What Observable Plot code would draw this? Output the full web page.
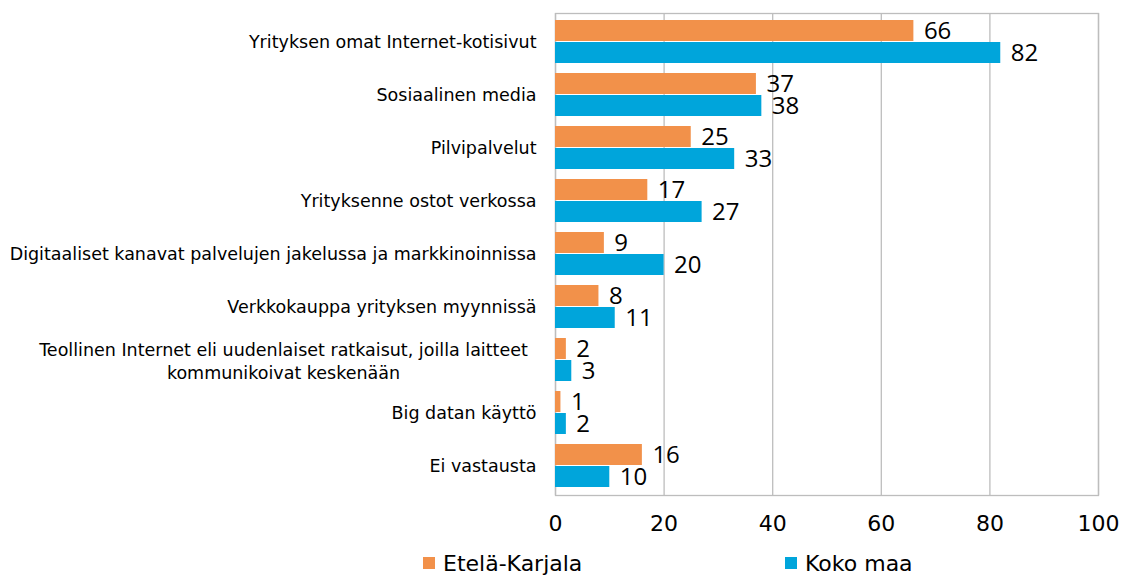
<!DOCTYPE html>
<html>
<head>
<meta charset="utf-8">
<script src="https://cdn.jsdelivr.net/npm/d3@7"></script>
<script src="https://cdn.jsdelivr.net/npm/@observablehq/plot@0.6"></script>
<style>
  body { margin: 0; background: #fff; }
  #chart svg { display: block; }
  #legend { position: relative; height: 30px; width: 1131px; font-family: "DejaVu Sans", sans-serif; font-size: 22px; color: #000; }
  #legend .item { position: absolute; top: 0; height: 30px; display: flex; align-items: center; white-space: nowrap; }
  #legend .sw { width: 12px; height: 12px; margin-right: 8px; }
</style>
</head>
<body>
<div id="chart"></div>
<div id="legend"></div>
<script>
// ---- data ----
const categories = [
  "Yrityksen omat Internet-kotisivut",
  "Sosiaalinen media",
  "Pilvipalvelut",
  "Yrityksenne ostot verkossa",
  "Digitaaliset kanavat palvelujen jakelussa ja markkinoinnissa",
  "Verkkokauppa yrityksen myynnissä",
  "Teollinen Internet eli uudenlaiset ratkaisut, joilla laitteet\nkommunikoivat keskenään",
  "Big datan käyttö",
  "Ei vastausta"
];
const seriesNames = ["Etelä-Karjala", "Koko maa"];
const etelaKarjala = [66, 37, 25, 17, 9, 8, 2, 1, 16];
const kokoMaa = [82, 38, 33, 27, 20, 11, 3, 2, 10];
const xTicks = [0, 20, 40, 60, 80, 100];
const colors = ["#F2914A", "#00A5DB"];

// ---- table ----
const rows = [];
categories.forEach((c, i) => {
  rows.push({category: c, series: seriesNames[0], value: etelaKarjala[i]});
  rows.push({category: c, series: seriesNames[1], value: kokoMaa[i]});
});
const s0 = rows.filter(d => d.series === seriesNames[0]);
const s1 = rows.filter(d => d.series === seriesNames[1]);
const multiLine = categories.filter(c => c.includes("\n"));

const fontLabel = "DejaVu Sans, sans-serif";
const fontNum = "Open Sans, sans-serif";

const chart = Plot.plot({
  width: 1131,
  height: 548,
  marginLeft: 555,
  marginRight: 33,
  marginTop: 13,
  marginBottom: 53,
  style: {fontFamily: fontLabel, background: "#fff", color: "#000"},
  x: {domain: [0, 100], ticks: xTicks},
  y: {domain: categories, paddingInner: 0.18, paddingOuter: 0.09},
  color: {domain: seriesNames, range: colors},
  marks: [
    Plot.gridX(xTicks, {stroke: "#BDBDBD", strokeOpacity: 1, strokeWidth: 1.3}),
    Plot.frame({stroke: "#BDBDBD", strokeWidth: 1.3}),
    Plot.barX(s0, {y: "category", x: "value", fill: "series", insetBottom: 22}),
    Plot.barX(s1, {y: "category", x: "value", fill: "series", insetTop: 22}),
    Plot.text(s0, {y: "category", x: "value", text: d => String(d.value), dx: 10, dy: -11,
      textAnchor: "start", fontFamily: fontNum, fontSize: 24, fill: "#000"}),
    Plot.text(s1, {y: "category", x: "value", text: d => String(d.value), dx: 10, dy: 11,
      textAnchor: "start", fontFamily: fontNum, fontSize: 24, fill: "#000"}),
    Plot.axisX({ticks: xTicks, tickSize: 0, tickPadding: 20, fontSize: 22, fontFamily: fontLabel, label: null}),
    Plot.axisY({tickSize: 0, tickPadding: 19, fontSize: 17.5, fontFamily: fontLabel, label: null,
      tickFormat: d => d.includes("\n") ? "" : d}),
    Plot.text(multiLine, {y: d => d, text: d => d, frameAnchor: "left", textAnchor: "middle",
      dx: -272, lineHeight: 1.35, fontSize: 17.5, fontFamily: fontLabel, fill: "#000"})
  ]
});
document.getElementById("chart").appendChild(chart);

// ---- legend ----
const legend = document.getElementById("legend");
const legendLeft = [423, 785];
seriesNames.forEach((name, i) => {
  const item = document.createElement("div");
  item.className = "item";
  item.style.left = legendLeft[i] + "px";
  const sw = document.createElement("span");
  sw.className = "sw";
  sw.style.background = colors[i];
  const t = document.createElement("span");
  t.textContent = name;
  item.appendChild(sw);
  item.appendChild(t);
  legend.appendChild(item);
});
</script>
</body>
</html>
